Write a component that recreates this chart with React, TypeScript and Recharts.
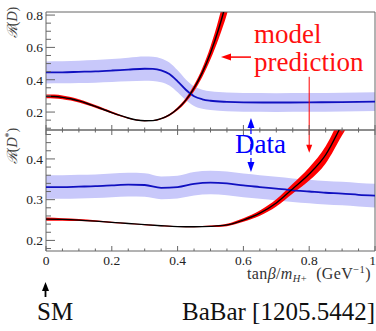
import React from 'react';
import { ComposedChart, Area, Line, XAxis, YAxis, ReferenceArea, ReferenceLine, ReferenceDot } from 'recharts';

// ---- R(D): model prediction (2HDM type II) ----
const xModelD = [0, 0.025, 0.05, 0.075, 0.1, 0.125, 0.15, 0.175, 0.2, 0.225, 0.25, 0.275, 0.3, 0.325, 0.35, 0.375, 0.4, 0.425, 0.45, 0.475, 0.5, 0.525, 0.55, 0.575];
const modelD = [0.297, 0.296, 0.291, 0.282, 0.269, 0.253, 0.235, 0.216, 0.197, 0.179, 0.163, 0.151, 0.146, 0.147, 0.159, 0.182, 0.22, 0.274, 0.348, 0.444, 0.566, 0.715, 0.897, 1.114];
const modelDErr = [0.012, 0.012, 0.011, 0.011, 0.01, 0.009, 0.008, 0.007, 0.006, 0.005, 0.004, 0.003, 0.003, 0.003, 0.004, 0.006, 0.009, 0.013, 0.019, 0.027, 0.04, 0.06, 0.09, 0.12];

// ---- R(D): data band ----
const xDataD = [0, 0.05, 0.1, 0.15, 0.2, 0.25, 0.3, 0.325, 0.35, 0.375, 0.4, 0.425, 0.45, 0.475, 0.5, 0.55, 0.6, 0.7, 0.8, 0.9, 1];
const dataD = [0.445, 0.446, 0.449, 0.452, 0.457, 0.463, 0.468, 0.467, 0.458, 0.435, 0.39, 0.338, 0.298, 0.279, 0.27, 0.263, 0.26, 0.259, 0.26, 0.262, 0.264];
const dataDErr = [0.068, 0.068, 0.069, 0.07, 0.071, 0.073, 0.075, 0.075, 0.074, 0.071, 0.068, 0.064, 0.061, 0.059, 0.058, 0.058, 0.058, 0.058, 0.058, 0.058, 0.058];

// ---- R(D*) ----
const xStar = [0, 0.05, 0.1, 0.15, 0.2, 0.25, 0.3, 0.35, 0.4, 0.45, 0.5, 0.55, 0.6, 0.65, 0.7, 0.75, 0.8, 0.85, 0.9, 0.95, 1];
const dataDs = [0.331, 0.331, 0.332, 0.333, 0.335, 0.337, 0.336, 0.329, 0.331, 0.339, 0.342, 0.34, 0.335, 0.331, 0.327, 0.323, 0.32, 0.317, 0.315, 0.312, 0.31];
const dataDsErr = [0.029, 0.029, 0.029, 0.029, 0.029, 0.029, 0.029, 0.028, 0.028, 0.029, 0.029, 0.029, 0.029, 0.029, 0.029, 0.029, 0.029, 0.029, 0.029, 0.029, 0.029];
const modelDs = [0.252, 0.2515, 0.25, 0.2475, 0.2445, 0.2415, 0.2385, 0.236, 0.234, 0.2335, 0.2345, 0.238, 0.25, 0.267, 0.292, 0.327, 0.363, 0.41, 0.485, 0.56, 0.64];
const modelDsErr = [0.004, 0.003, 0.0025, 0.002, 0.0015, 0.001, 0.001, 0.001, 0.001, 0.0012, 0.0018, 0.003, 0.0045, 0.0065, 0.009, 0.012, 0.016, 0.021, 0.027, 0.033, 0.04];

// ---- ticks ----
const xTicks = [0, 0.05, 0.1, 0.15, 0.2, 0.25, 0.3, 0.35, 0.4, 0.45, 0.5, 0.55, 0.6, 0.65, 0.7, 0.75, 0.8, 0.85, 0.9, 0.95, 1];
const xMajor = [0, 0.2, 0.4, 0.6, 0.8, 1];
const xMajorLabels = ['0', '0.2', '0.4', '0.6', '0.8', '1'];
const yTicksD = [0.1, 0.15, 0.2, 0.25, 0.3, 0.35, 0.4, 0.45, 0.5, 0.55, 0.6, 0.65, 0.7, 0.75, 0.8];
const yMajorD = [0.2, 0.4, 0.6, 0.8];
const yMajorDLabels = ['0.2', '0.4', '0.6', '0.8'];
const yTicksDs = [0.18, 0.2, 0.22, 0.24, 0.26, 0.28, 0.3, 0.32, 0.34, 0.36, 0.38, 0.4, 0.42, 0.44, 0.46];
const yMajorDs = [0.2, 0.3, 0.4];
const yMajorDsLabels = ['0.2', '0.3', '0.4'];

const domD: [number, number] = [0.089, 0.819];
const domDs: [number, number] = [0.174, 0.471];

const FONT = "Liberation Serif, DejaVu Serif, serif";
const AXIS = '#666';
const BAND_BLUE = '#c8c8fa';
const LINE_BLUE = '#1010c0';
const RED = '#ff0000';

const rows = (xs: number[], mid: number[], err: number[]) =>
  xs.map((x, i) => ({ x, mid: mid[i], band: [mid[i] - err[i], mid[i] + err[i]] }));

const modelDRows = rows(xModelD, modelD, modelDErr);
const dataDRows = rows(xDataD, dataD, dataDErr);
const dataDsRows = rows(xStar, dataDs, dataDsErr);
const modelDsRows = rows(xStar, modelDs, modelDsErr);

const findIdx = (arr: number[], v: number) => arr.findIndex((m) => Math.abs(m - v) < 1e-6);

const makeXTick = (dir: number, labels: boolean) => (p: any) => {
  const v = p.payload.value;
  const idx = findIdx(xMajor, v);
  const len = idx >= 0 ? 5 : 2.5;
  const last = idx === xMajor.length - 1;
  return (
    <g>
      <line x1={p.x} x2={p.x} y1={p.y} y2={p.y + dir * len} stroke={AXIS} strokeWidth={1} />
      {labels && idx >= 0 && (
        <text x={last ? p.x + 1 : p.x} y={p.y + 14} textAnchor={last ? 'end' : 'middle'} fontFamily={FONT} fontSize={13.5} fill="#222">
          {xMajorLabels[idx]}
        </text>
      )}
    </g>
  );
};

const makeYTick = (majors: number[], labels: string[]) => (p: any) => {
  const v = p.payload.value;
  const idx = findIdx(majors, v);
  const len = idx >= 0 ? 9 : 5;
  return (
    <g>
      <line x1={p.x} x2={p.x + len} y1={p.y} y2={p.y} stroke={AXIS} strokeWidth={1} />
      {idx >= 0 && (
        <text x={p.x - 3} y={p.y + 4.8} textAnchor="end" fontFamily={FONT} fontSize={13.5} fill="#222">
          {labels[idx]}
        </text>
      )}
    </g>
  );
};

const yTitle = (star: boolean, off: number) => (p: any) => {
  const vb = p.viewBox;
  const x = vb.x + 17;
  const y = vb.y + off;
  return (
    <text x={x} y={y} transform={`rotate(-90 ${x} ${y})`} textAnchor="middle" fontFamily={FONT} fontSize={14} fill="#444">
      <tspan fontFamily="DejaVu Serif, serif" fontStyle="italic">ℛ</tspan>(
      <tspan fontStyle="italic">D</tspan>
      {star ? <tspan fontSize={10} dy={-5}>*</tspan> : null}
      {star ? <tspan dy={5}>)</tspan> : ')'}
    </text>
  );
};

const bottomLabel = (p: any) => {
  const vb = p.viewBox;
  const x0 = vb.x;
  const right = vb.x + vb.width;
  const ay = vb.y;
  return (
    <g>
      <text x={right - 4} y={ay + 28} textAnchor="end" fontFamily={FONT} fontSize={16} fill="#333" letterSpacing={0.4}>
        tan<tspan fontStyle="italic">β</tspan>/<tspan fontStyle="italic">m</tspan>
        <tspan fontSize={10.5} dy={3} fontStyle="italic">H</tspan>
        <tspan fontSize={10.5}>+</tspan>
        <tspan dy={-3} dx={9}>(GeV</tspan>
        <tspan fontSize={10.5} dy={-6}>−1</tspan>
        <tspan dy={6}>)</tspan>
      </text>
      <line x1={x0 - 0.5} x2={x0 - 0.5} y1={ay + 46} y2={ay + 38} stroke="#000" strokeWidth={1.8} />
      <polygon points={`${x0 - 0.5},${ay + 31} ${x0 - 4},${ay + 40} ${x0 + 3},${ay + 40}`} fill="#000" />
      <text x={x0 - 9} y={ay + 69} fontFamily={FONT} fontSize={25} fill="#111">SM</text>
      <text x={right} y={ay + 69} textAnchor="end" fontFamily={FONT} fontSize={25} fill="#111">BaBar [1205.5442]</text>
    </g>
  );
};

type ArrowOpts = { color: string; width: number; head: number; headW: number; dash?: string };
const arrowShape = (o: ArrowOpts, withHead = true) => (p: any) => {
  const { x1, y1, x2, y2 } = p;
  const dx = x2 - x1;
  const dy = y2 - y1;
  const L = Math.hypot(dx, dy) || 1;
  const ux = dx / L;
  const uy = dy / L;
  const ex = withHead ? x2 - ux * o.head * 0.7 : x2;
  const ey = withHead ? y2 - uy * o.head * 0.7 : y2;
  const bx = x2 - ux * o.head;
  const by = y2 - uy * o.head;
  const px = (-uy * o.headW) / 2;
  const py = (ux * o.headW) / 2;
  return (
    <g>
      <line x1={x1} y1={y1} x2={ex} y2={ey} stroke={o.color} strokeWidth={o.width} strokeDasharray={o.dash} />
      {withHead && <polygon points={`${x2},${y2} ${bx + px},${by + py} ${bx - px},${by - py}`} fill={o.color} />}
    </g>
  );
};

const textShape = (label: string, color: string, size: number) => (p: any) => (
  <text x={p.cx} y={p.cy} fontFamily={FONT} fontSize={size} fill={color}>
    {label}
  </text>
);

const redH: ArrowOpts = { color: RED, width: 1.5, head: 10, headW: 7 };
const redV: ArrowOpts = { color: RED, width: 1, head: 8, headW: 6 };
const blueA: ArrowOpts = { color: '#0000ff', width: 1.2, head: 10, headW: 7, dash: '4 3' };

export default function App() {
  return (
    <div style={{ position: 'absolute', left: 0, top: 0, width: 376, height: 331, background: '#fff', fontFamily: FONT }}>
      <div style={{ position: 'absolute', left: 0, top: 0 }}>
        <ComposedChart width={376} height={331} margin={{ top: 12, right: 1, bottom: 200, left: 0 }}>
          <XAxis type="number" dataKey="x" domain={[0, 1]} allowDataOverflow ticks={xTicks} interval={0}
            tick={makeXTick(-1, false)} tickLine={false} axisLine={false} tickSize={0} tickMargin={0} height={1} />
          <YAxis type="number" domain={domD} allowDataOverflow ticks={yTicksD} interval={0}
            tick={makeYTick(yMajorD, yMajorDLabels)} tickLine={false} axisLine={false} tickSize={0} tickMargin={0}
            width={46} label={yTitle(false, 10.5)} />
          <Area data={dataDRows} dataKey="band" type="monotone" fill={BAND_BLUE} fillOpacity={1} stroke="none" isAnimationActive={false} activeDot={false} />
          <Line data={dataDRows} dataKey="mid" type="monotone" stroke={LINE_BLUE} strokeWidth={1.8} dot={false} activeDot={false} isAnimationActive={false} />
          <Area data={modelDRows} dataKey="band" type="monotone" fill={RED} fillOpacity={1} stroke="none" isAnimationActive={false} activeDot={false} />
          <Line data={modelDRows} dataKey="mid" type="monotone" stroke="#000" strokeWidth={1.4} dot={false} activeDot={false} isAnimationActive={false} />
          <ReferenceArea x1={0} x2={1} y1={domD[0]} y2={domD[1]} fill="none" stroke={AXIS} strokeWidth={1} ifOverflow="visible" />
          <ReferenceDot x={0.632} y={0.627} r={0} ifOverflow="visible" shape={textShape('model', '#ff1010', 27)} />
          <ReferenceDot x={0.632} y={0.451} r={0} ifOverflow="visible" shape={textShape('prediction', '#ff1010', 27)} />
          <ReferenceLine segment={[{ x: 0.623, y: 0.54 }, { x: 0.532, y: 0.54 }]} ifOverflow="visible" shape={arrowShape(redH)} />
          <ReferenceLine segment={[{ x: 0.8, y: 0.418 }, { x: 0.8, y: domD[0] }]} ifOverflow="visible" shape={arrowShape(redV, false)} />
          <ReferenceLine segment={[{ x: 0.623, y: domD[0] }, { x: 0.623, y: 0.163 }]} ifOverflow="visible" shape={arrowShape(blueA)} />
        </ComposedChart>
      </div>
      <div style={{ position: 'absolute', left: 0, top: 0 }}>
        <ComposedChart width={376} height={331} margin={{ top: 129, right: 1, bottom: 0, left: 0 }}>
          <XAxis type="number" dataKey="x" domain={[0, 1]} allowDataOverflow ticks={xTicks} interval={0}
            tick={makeXTick(-1, true)} tickLine={false} axisLine={false} tickSize={0} tickMargin={0} height={80}
            label={bottomLabel} />
          <XAxis xAxisId="t" orientation="top" type="number" dataKey="x" domain={[0, 1]} allowDataOverflow ticks={xTicks} interval={0}
            tick={makeXTick(1, false)} tickLine={false} axisLine={false} tickSize={0} tickMargin={0} height={1} />
          <YAxis type="number" domain={domDs} allowDataOverflow ticks={yTicksDs} interval={0}
            tick={makeYTick(yMajorDs, yMajorDsLabels)} tickLine={false} axisLine={false} tickSize={0} tickMargin={0}
            width={46} label={yTitle(true, 16)} />
          <Area data={dataDsRows} dataKey="band" type="monotone" fill={BAND_BLUE} fillOpacity={1} stroke="none" isAnimationActive={false} activeDot={false} />
          <Line data={dataDsRows} dataKey="mid" type="monotone" stroke={LINE_BLUE} strokeWidth={1.8} dot={false} activeDot={false} isAnimationActive={false} />
          <Area data={modelDsRows} dataKey="band" type="monotone" fill={RED} fillOpacity={1} stroke="none" isAnimationActive={false} activeDot={false} />
          <Line data={modelDsRows} dataKey="mid" type="monotone" stroke="#000" strokeWidth={1.3} dot={false} activeDot={false} isAnimationActive={false} />
          <ReferenceArea x1={0} x2={1} y1={domDs[0]} y2={domDs[1]} fill="none" stroke={AXIS} strokeWidth={1} ifOverflow="visible" />
          <ReferenceDot x={0.5745} y={0.414} r={0} ifOverflow="visible" shape={textShape('Data', '#0000ff', 27)} />
          <ReferenceLine segment={[{ x: 0.8, y: domDs[1] }, { x: 0.8, y: 0.415 }]} ifOverflow="visible" shape={arrowShape(redV)} />
          <ReferenceLine segment={[{ x: 0.623, y: domDs[1] }, { x: 0.623, y: 0.368 }]} ifOverflow="visible" shape={arrowShape(blueA)} />
        </ComposedChart>
      </div>
    </div>
  );
}
